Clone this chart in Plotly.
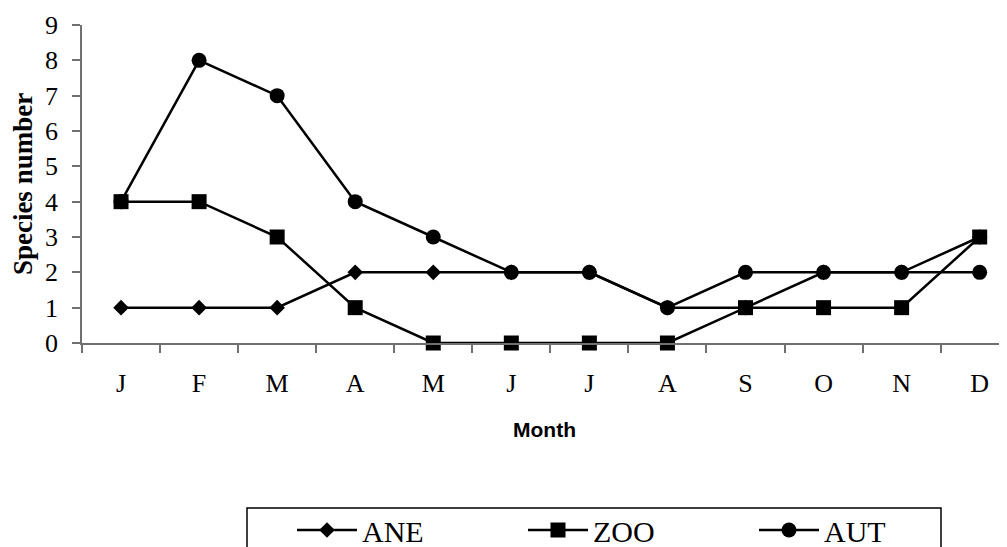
import plotly.graph_objects as go

months = ["J", "F", "M", "A", "M", "J", "J", "A", "S", "O", "N", "D"]
ane = [1, 1, 1, 2, 2, 2, 2, 1, 1, 2, 2, 3]
zoo = [4, 4, 3, 1, 0, 0, 0, 0, 1, 1, 1, 3]
aut = [4, 8, 7, 4, 3, 2, 2, 1, 2, 2, 2, 2]
yticks = list(range(0, 10))

x = list(range(len(months)))
serif = "Liberation Serif, Times New Roman, serif"

# figure is placed by the page at an 8px body offset
W, H = 999, 539
L, T, B = 74, 17, 204
plot_w = W - L
plot_h = H - T - B

fig = go.Figure()
for name, vals, sym, size in [("ANE", ane, "diamond", 12), ("ZOO", zoo, "square", 15), ("AUT", aut, "circle", 15)]:
    fig.add_trace(go.Scatter(
        x=x, y=vals, name=name, mode="lines+markers",
        line=dict(color="black", width=2.5),
        marker=dict(symbol=sym, size=size, color="black"),
        cliponaxis=False,
    ))

# legend frame (fig pixels -> paper coords)
def px_x(px):
    return (px - L) / plot_w

def px_y(py):
    return (T + plot_h - py) / plot_h

fig.add_shape(type="rect", xref="paper", yref="paper",
              x0=px_x(239), x1=px_x(933), y0=px_y(500), y1=px_y(560),
              line=dict(color="black", width=1.5), fillcolor="rgba(0,0,0,0)", layer="above")

fig.update_layout(
    width=W, height=H,
    margin=dict(l=L, r=0, t=T, b=B, autoexpand=False),
    paper_bgcolor="white", plot_bgcolor="white",
    font=dict(family=serif, size=26, color="black"),
    showlegend=True,
    legend=dict(
        orientation="h", xref="container", yref="container",
        x=284 / W, y=1 - 496 / H, xanchor="left", yanchor="top",
        borderwidth=0, bgcolor="rgba(0,0,0,0)",
        font=dict(family=serif, size=30, color="black"),
        entrywidth=156, entrywidthmode="pixels", itemwidth=60,
        traceorder="normal",
    ),
    xaxis=dict(
        range=[-0.5, 11.35], tickmode="array", tickvals=x, ticktext=months,
        ticks="outside", ticklen=16, tickcolor="rgba(0,0,0,0)",
        minor=dict(tickmode="array", tickvals=[i - 0.5 for i in range(13)],
                   ticks="outside", ticklen=8, tickcolor="#707070", tickwidth=1.5, showgrid=False),
        showline=True, linecolor="#707070", linewidth=1.5,
        showgrid=False, zeroline=False,
        tickfont=dict(family=serif, size=26),
        title=dict(text="<b>Month</b>", font=dict(family="Liberation Sans, Arial, sans-serif", size=21), standoff=25),
    ),
    yaxis=dict(
        range=[0, 9], tickmode="array", tickvals=yticks,
        ticks="outside", ticklen=8, tickcolor="#707070", tickwidth=1.5,
        ticklabelstandoff=9,
        showline=True, linecolor="#707070", linewidth=1.5,
        showgrid=False, zeroline=False,
        tickfont=dict(family=serif, size=26),
        title=dict(text="<b>Species number</b>", font=dict(family=serif, size=27), standoff=14),
    ),
)

fig.write_html("out.html")
